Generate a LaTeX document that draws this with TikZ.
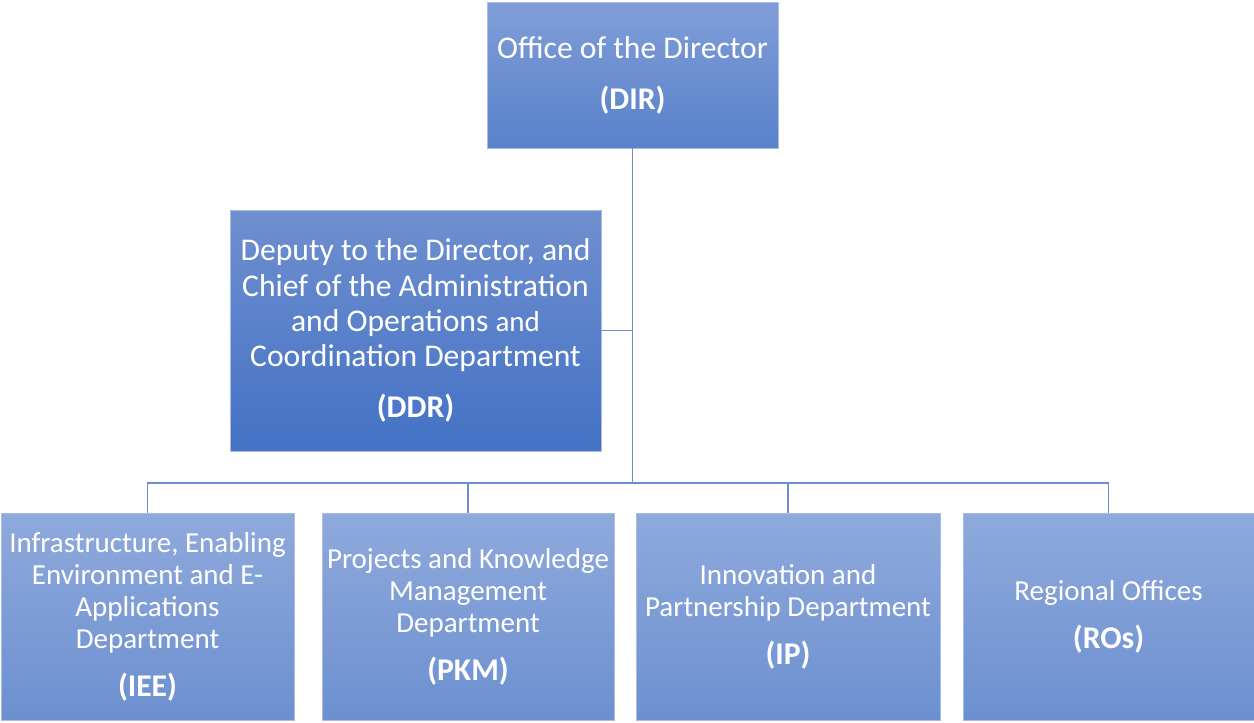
\documentclass[tikz,border=0pt]{standalone}
\usepackage{fontspec}
\setmainfont{Carlito}
\usetikzlibrary{positioning}
\definecolor{linkblue}{RGB}{108,142,208}
\definecolor{edgeblue}{RGB}{170,188,228}
\tikzstyle{unit} = [rectangle, draw=edgeblue, line width=0.4pt, text=white, align=center, inner sep=0pt]
\tikzstyle{headunit} = [unit, top color={rgb,255:red,128;green,157;blue,216}, bottom color={rgb,255:red,88;green,130;blue,202}, font=\fontsize{18}{20}\selectfont]
\tikzstyle{deputyunit} = [unit, top color={rgb,255:red,111;green,143;blue,208}, bottom color={rgb,255:red,68;green,114;blue,196}, font=\fontsize{18}{20}\selectfont]
\tikzstyle{deptunit} = [unit, top color={rgb,255:red,143;green,169;blue,220}, bottom color={rgb,255:red,108;green,144;blue,208}, minimum height=4.14cm, font=\fontsize{16.5}{18.2}\selectfont]
\tikzstyle{link} = [draw=linkblue, line width=0.85pt]
\newcommand{\abbr}[1]{\fontsize{18}{20}\selectfont\bfseries #1}

\begin{document}
\begin{tikzpicture}[x=0.02cm, y=-0.02cm]
    \useasboundingbox (0,0) rectangle (1254,723);

    \node (dir) [headunit, minimum width=5.82cm, minimum height=2.92cm] at (632.5,75) {Office of the Director\\[9pt]\abbr{(DIR)}};
    \node (ddr) [deputyunit, minimum width=7.42cm, minimum height=4.82cm] at (415.5,330.5) {Deputy to the Director, and\\Chief of the Administration\\and Operations {\fontsize{16.5}{20}\selectfont and}\\Coordination Department\\[9pt]\abbr{(DDR)}};

    \node (iee) [deptunit, minimum width=5.86cm] at (147.5,616.5) {Infrastructure, Enabling\\Environment and E-\\Applications\\Department\\[9pt]\abbr{(IEE)}};
    \node (pkm) [deptunit, minimum width=5.84cm] at (468,616.5) {Projects and Knowledge\\Management\\Department\\[9pt]\abbr{(PKM)}};
    \node (ip) [deptunit, minimum width=6.08cm] at (788,616.5) {Innovation and\\Partnership Department\\[9pt]\abbr{(IP)}};
    \node (ros) [deptunit, minimum width=5.82cm] at (1108.5,616.5) {Regional Offices\\[9pt]\abbr{(ROs)}};

    \coordinate (hub) at (dir.south |- 0,483);

    \draw [link] (dir.south) -- (hub);
    \draw [link] (ddr.east) -- (ddr.east -| dir.south);
    \draw [link] (hub) -| (iee.north);
    \draw [link] (hub) -| (pkm.north);
    \draw [link] (hub) -| (ip.north);
    \draw [link] (hub) -| (ros.north);
\end{tikzpicture}
\end{document}
